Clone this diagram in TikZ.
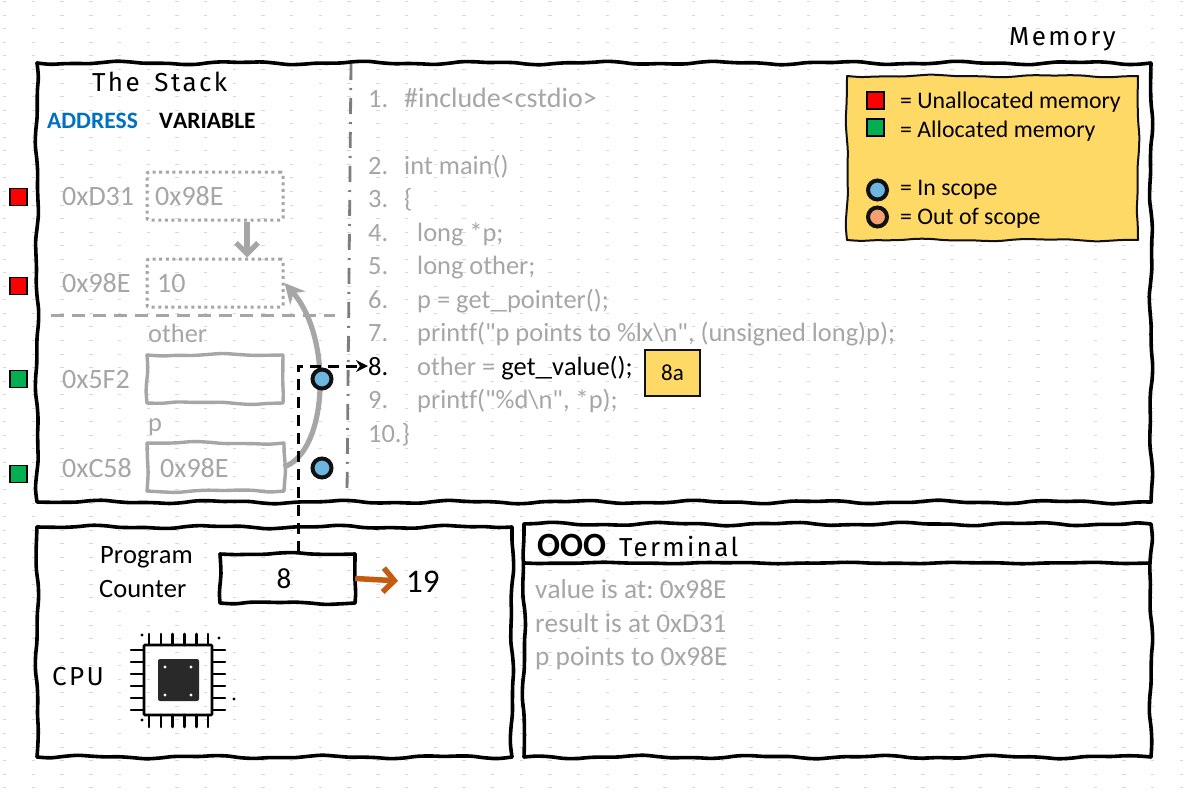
\documentclass[tikz,border=0pt]{standalone}
\usepackage{fontspec}
\usepackage{graphicx}
\setmainfont{Carlito}[Ligatures={TeXOff,NoCommon},Kerning=Off]
\newfontfamily\handfont[LetterSpace=9,WordSpace=1.6]{Fira Sans}
\usetikzlibrary{arrows.meta,calc}
\definecolor{faded}{HTML}{A6A6A6}
\definecolor{inkdark}{HTML}{111111}
\definecolor{noteyellow}{HTML}{FFD966}
\definecolor{allocgreen}{HTML}{00B050}
\definecolor{scopeblue}{HTML}{6CB6E0}
\definecolor{scopeorange}{HTML}{F4A070}
\definecolor{addrblue}{HTML}{0070C0}
\definecolor{pcorange}{HTML}{C55A11}
\definecolor{griddot}{HTML}{D8D8D8}
\newcommand\wideus{\scalebox{1.25}[1]{\symbol{95}}}
\tikzset{
  x=1pt,y=-1pt,
  declare function={wobv(\t,\L,\p)=min(1,min(\t,1-\t)*\L/15)*(sin(\t*\L*3+\p)+0.5*sin(\t*\L*7.3+2*\p));},
  bigline/.style={draw=black,line width=3.6pt},
  varline/.style={draw=faded,line width=3.4pt},
  varsolid/.style={minimum width=136pt,minimum height=48pt,inner sep=0pt},
  vardotted/.style={draw=faded,line width=3pt,dash pattern=on 3pt off 3.6pt,minimum width=136pt,minimum height=48pt,inner sep=0pt,rounded corners=2pt},
  memsq/.style={draw=black,line width=1.3pt,minimum size=17pt,inner sep=0pt},
  scopedot/.style={circle,draw=inkdark,line width=4pt,fill=scopeblue,minimum size=19pt,inner sep=0pt},
  txt/.style={anchor=base west,inner sep=0pt,font=\fontsize{26.5pt}{30pt}\selectfont},
  code/.style={txt,text=faded,font=\fontsize{26.4pt}{30pt}\selectfont},
  codebig/.style={txt,text=faded,font=\fontsize{28pt}{30pt}\selectfont},
  stackval/.style={anchor=base west,inner sep=0pt,text=faded,font=\fontsize{28pt}{30pt}\selectfont},
  termout/.style={anchor=base west,inner sep=0pt,text=faded,font=\fontsize{27.3pt}{30pt}\selectfont},
  hand/.style={anchor=base west,inner sep=0pt,font=\handfont\fontsize{26pt}{30pt}\selectfont},
  legendtxt/.style={anchor=base west,inner sep=0pt,font=\fontsize{23.8pt}{28pt}\selectfont},
  hdr/.style={anchor=base west,inner sep=0pt,font=\bfseries\fontsize{23.5pt}{28pt}\selectfont},
  fadedarrow/.style={draw=faded,line width=5.2pt},
}
\newcommand\wobside[7]{% style, amp, x0,y0,x1,y1, phase
  \pgfmathsetmacro\wlen{veclen(#5-#3,#6-#4)}
  \pgfmathsetmacro\wnx{-(#6-#4)/\wlen}
  \pgfmathsetmacro\wny{(#5-#3)/\wlen}
  \pgfmathtruncatemacro\wsam{max(\wlen/13,6)}
  \draw[#1,line cap=round] plot[smooth,tension=0.6,domain=0:1,samples=\wsam,variable=\t]
    ({#3+(#5-#3)*\t+#2*\wnx*wobv(\t,\wlen,#7)},{#4+(#6-#4)*\t+#2*\wny*wobv(\t,\wlen,#7)});
}
\newcommand\wobrect[7]{% style, amp, x0,y0,x1,y1, phase
  \wobside{#1}{#2}{#3}{#4}{#5}{#4}{#7}
  \wobside{#1}{#2}{#5}{#4}{#5}{#6}{#7+70}
  \wobside{#1}{#2}{#5}{#6}{#3}{#6}{#7+150}
  \wobside{#1}{#2}{#3}{#6}{#3}{#4}{#7+240}
}
\begin{document}
\frenchspacing
\begin{tikzpicture}
\useasboundingbox (0,0) rectangle (1188,792);
\fill[white] (0,0) rectangle (1188,792);
% dotted paper
\foreach \r in {0,...,58}{
  \pgfmathsetmacro{\yy}{1.7+13.55*\r}
  \foreach \c in {0,...,41}{
    \pgfmathsetmacro{\xx}{3+28.7*\c}
    \draw[griddot,line width=0.9pt] (\xx,\yy) -- ++(3.4,0);
  }
}
% panels
\node[hand] (memtitle) at (1009,46) {Memory};
\wobrect{bigline}{1.2}{37}{63}{1151}{502}{20}
\wobrect{bigline}{1.2}{37}{527}{512}{757}{100}
\wobrect{bigline}{1.2}{524}{524}{1151}{757}{200}
\wobside{bigline}{0.5}{525}{563}{1150}{563}{30}
% separator lines
\draw[draw=faded!75!black,line width=2.8pt,dash pattern=on 16pt off 8pt on 2pt off 8pt] (351,64) -- (347,494);
\draw[draw=faded,line width=3pt,dash pattern=on 13pt off 8pt] (51,315) -- (335,315);
% stack headings
\node[hand] (stacktitle) at (92,92) {The Stack};
\node[hdr,text=addrblue] (addrhdr) at (47,128) {ADDRESS};
\node[hdr,text=black] (varhdr) at (159,128) {VARIABLE};
% stack rows
\node[memsq,fill=red] (m1) at (18.5,197) {};
\node[memsq,fill=red] (m2) at (18.5,286) {};
\node[memsq,fill=allocgreen] (m3) at (18.5,379) {};
\node[memsq,fill=allocgreen] (m4) at (18.5,474) {};
\node[stackval] (a1) at (62,205) {0xD31};
\node[stackval] (a2) at (62,292) {0x98E};
\node[stackval] (a3) at (62,388) {0x5F2};
\node[stackval] (a4) at (62,477) {0xC58};
\node[vardotted] (v1) at (215,196) {};
\node[vardotted] (v2) at (215,283) {};
\wobrect{varline}{1}{147}{355}{283}{403}{40}
\wobrect{varline}{1}{147}{443}{284}{491}{130}
\node[varsolid] (v3) at (215,379) {};
\node[varsolid] (v4) at (215.5,467) {};
\node[stackval] (t1) at (155,205) {0x98E};
\node[stackval] (t2) at (157,292) {10};
\node[stackval] (t4) at (160,477) {0x98E};
\node[code] (n3) at (148,342) {other};
\node[code] (n4) at (148,431) {p};
% code
\node[code] (ln1) at (368,107) {1.};
\node[codebig] at (404,107) (c1) {\#include<cstdio>};
\node[code] (ln2) at (368,174) {2.};
\node[code] at (404,174) (c2) {int main()};
\node[code] (ln3) at (368,207) {3.};
\node[code] at (404,207) (c3) {\{};
\node[code] (ln4) at (368,241) {4.};
\node[code] at (417,241) (c4) {long *p;};
\node[code] (ln5) at (368,274) {5.};
\node[code] at (417,274) (c5) {long other;};
\node[code] (ln6) at (368,308) {6.};
\node[code] at (417,308) (c6) {p = get\wideus pointer();};
\node[code] (ln7) at (368,341) {7.};
\node[code] at (417,341) (c7) {printf("p points to \%lx\string\n", (unsigned long)p);};
\node[txt] (ln8) at (368,375) {8.};
\node[code] at (417,375) (c8) {other = \textcolor{black}{get\wideus value();}};
\node[code] (ln9) at (368,408) {9.};
\node[code] at (417,408) (c9) {printf("\%d\string\n", *p);};
\node[code] (ln10) at (368,442) {10.\}};
\node[draw=inkdark,line width=1.6pt,fill=noteyellow,minimum width=55pt,minimum height=46pt,inner sep=0pt,font=\fontsize{23pt}{26pt}\selectfont] (note8a) at (672.5,373) {8a};
% stack arrows
\draw[fadedarrow,-{Straight Barb[length=11pt,width=22pt,line width=5.2pt]}] (v1.south -| 247,0) -- (v2.north -| 247,0);
\draw[fadedarrow,-{Stealth[length=20pt,width=20pt]}] (v4.east) .. controls (328,452) and (333,338) .. (v2.east);
% pc box
\wobrect{bigline}{1}{220}{554}{355}{603}{60}
\node[minimum width=135pt,minimum height=49pt,inner sep=0pt,font=\fontsize{29pt}{32pt}\selectfont] (pc) at (287.5,578.5) {\hspace*{-7pt}8};
\coordinate (pctap) at (298,552);
\draw[black,line width=3pt,dash pattern=on 11pt off 7pt,-{Stealth[length=12pt,width=12pt]}] (pctap) |- (ln8.west);
\node[scopedot] (s1) at (322,379) {};
\node[scopedot] (s2) at (322,468) {};
% pc text
\node[txt] (pc1) at (100,563) {Program};
\node[txt] (pc2) at (99,597) {Counter};
\node[anchor=base west,inner sep=0pt,font=\fontsize{33pt}{36pt}\selectfont] (next) at (406,592) {19};
\draw[draw=pcorange,line width=5.5pt,shorten >=8pt,-{Straight Barb[length=11pt,width=24pt,line width=5.5pt]}] (pc.east) -- (next.west);
\node[hand] (cpulabel) at (52,685) {CPU};
% cpu icon
\foreach \p in {0,...,5}{
  \pgfmathsetmacro{\pinx}{149+11.8*\p}
  \pgfmathsetmacro{\piny}{650+12*\p}
  \draw[black,line width=2.6pt,line cap=round] (\pinx,634) -- (\pinx,645);
  \draw[black,line width=2.6pt,line cap=round] (\pinx,715) -- (\pinx,727);
  \draw[black,line width=2.6pt,line cap=round] (131,\piny) -- (144,\piny);
  \draw[black,line width=2.6pt,line cap=round] (212,\piny) -- (225,\piny);
}
\draw[black,line width=2.8pt,rounded corners=1pt] (144,645) rectangle (212,715);
\fill[inkdark!90!white,rounded corners=2pt] (158,659) rectangle (199,701);
\foreach \a/\b in {165/667,191/667,165/695,191/695}{\fill[white] (\a,\b) circle (1.7pt);}
\foreach \a/\b in {142/635,219/638,234/699,142/720}{\fill[black] (\a,\b) circle (1.7pt);}
% terminal
\node[anchor=base west,inner sep=0pt,font=\bfseries\fontsize{34pt}{36pt}\selectfont] (dots) at (537,556) {OOO};
\node[hand] (termtitle) at (619,556) {Terminal};
\node[termout] (o1) at (535,598) {value is at: 0x98E};
\node[termout] (o2) at (535,632) {result is at 0xD31};
\node[termout] (o3) at (535,665) {p points to 0x98E};
% legend
\fill[noteyellow] (847,76) rectangle (1138,240);
\wobrect{draw=inkdark,line width=2pt}{0.9}{847}{76}{1138}{240}{10}
\node[memsq,fill=red] (k1) at (875.5,100.5) {};
\node[memsq,fill=allocgreen] (k2) at (875.5,127.5) {};
\node[scopedot] (k3) at (877.5,190) {};
\node[scopedot,fill=scopeorange] (k4) at (877.5,217) {};
\node[legendtxt] (l1) at (900,108) {= Unallocated memory};
\node[legendtxt] (l2) at (900,137) {= Allocated memory};
\node[legendtxt] (l3) at (900,195) {= In scope};
\node[legendtxt] (l4) at (900,224) {= Out of scope};
\end{tikzpicture}
\end{document}
